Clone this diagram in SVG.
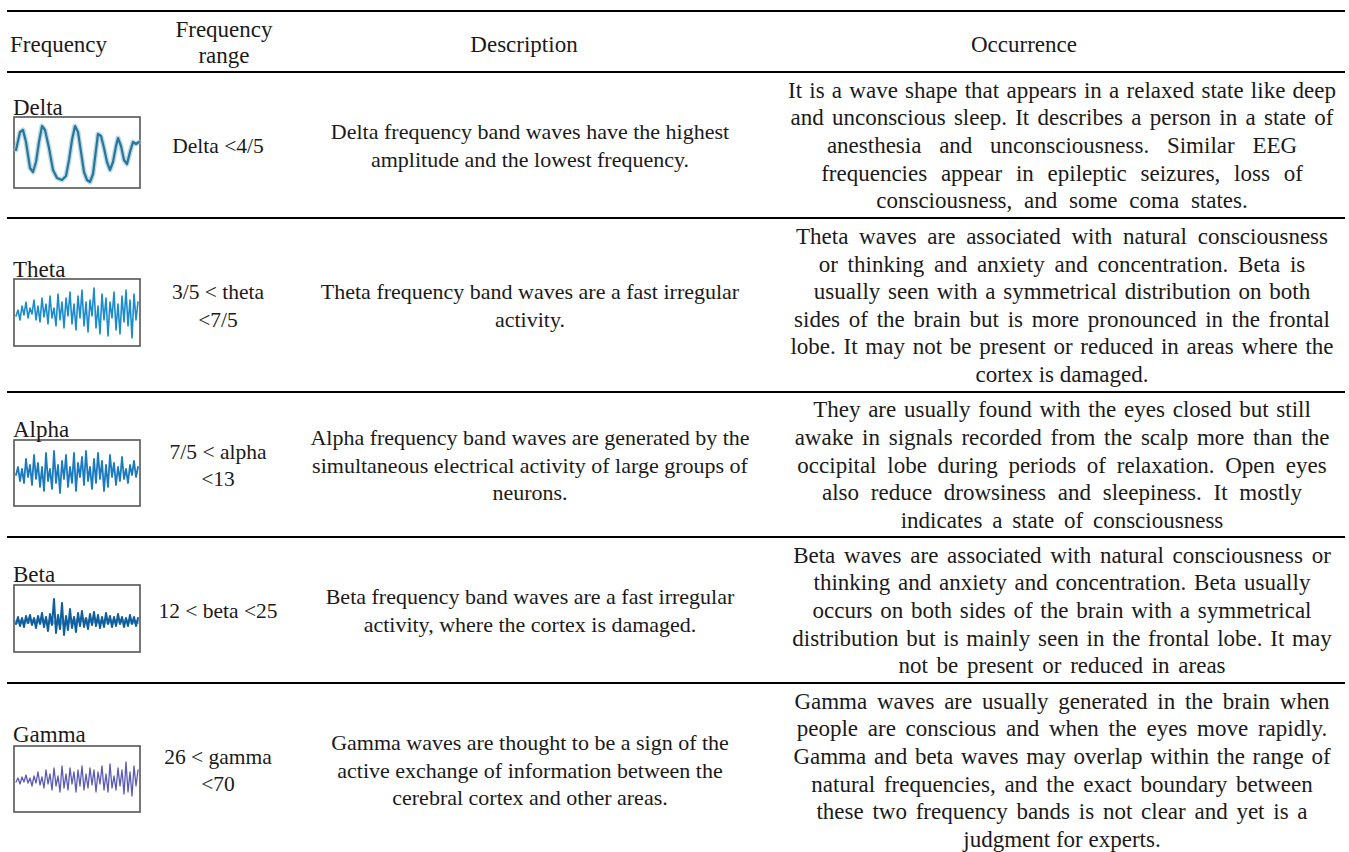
<svg xmlns="http://www.w3.org/2000/svg" width="1349" height="852" viewBox="0 0 1349 852">
<style>
text{font-family:"Liberation Serif","Times New Roman",serif;font-size:23px;fill:#1a1a1a}
.c{text-anchor:middle}
.r{text-anchor:middle;font-size:21.5px}
.d{text-anchor:middle;font-size:22px}
.o{text-anchor:middle}
.rule{stroke:#000;stroke-width:2.2}
.box{fill:#fff;stroke:#555;stroke-width:1.6}
.w{fill:none;stroke-linejoin:round;stroke-linecap:round}
</style>
<rect width="1349" height="852" fill="#fff"/>
<g id="rules">
<line class="rule" x1="7" y1="11" x2="1345" y2="11"/>
<line class="rule" x1="7" y1="72" x2="1345" y2="72"/>
<line class="rule" x1="7" y1="218" x2="1345" y2="218"/>
<line class="rule" x1="7" y1="392" x2="1345" y2="392"/>
<line class="rule" x1="7" y1="537" x2="1345" y2="537"/>
<line class="rule" x1="7" y1="683" x2="1345" y2="683"/>
</g>
<g id="header">
<text x="10" y="52">Frequency</text>
<text class="c" x="224" y="37">Frequency</text>
<text class="c" x="224" y="63">range</text>
<text class="c" x="524" y="52">Description</text>
<text class="c" x="1024" y="52">Occurrence</text>
</g>
<g id="row-delta">
<rect class="box" x="14" y="117" width="126" height="71"/>
<polyline class="w" stroke="#8fc3dc" stroke-opacity="0.6" stroke-width="5" points="16,150 20,132 23,130 26,142 30,168 33,172 36,162 39,142 42,126 45,130 49,148 53,170 57,178 62,180 66,176 69,160 72,140 75,126 78,132 81,152 84,172 87,180 90,182 93,174 96,150 98,134 101,136 104,148 107,162 110,170 113,162 116,146 118,138 121,146 124,160 127,164 130,152 133,142 136,144 139,142"/>
<polyline class="w" stroke="#2b7696" stroke-width="2.2" points="16,150 20,132 23,130 26,142 30,168 33,172 36,162 39,142 42,126 45,130 49,148 53,170 57,178 62,180 66,176 69,160 72,140 75,126 78,132 81,152 84,172 87,180 90,182 93,174 96,150 98,134 101,136 104,148 107,162 110,170 113,162 116,146 118,138 121,146 124,160 127,164 130,152 133,142 136,144 139,142"/>
<text x="13" y="115">Delta</text>
<text class="r" x="218" y="153">Delta &lt;4/5</text>
<text class="d" x="530" y="139">Delta frequency band waves have the highest</text>
<text class="d" x="530" y="167">amplitude and the lowest frequency.</text>
<text class="o" x="1062" y="98" word-spacing="1.5">It is a wave shape that appears in a relaxed state like deep</text>
<text class="o" x="1062" y="125" word-spacing="2.5">and unconscious sleep. It describes a person in a state of</text>
<text class="o" x="1062" y="153" word-spacing="12">anesthesia and unconsciousness. Similar EEG</text>
<text class="o" x="1062" y="181" word-spacing="8">frequencies appear in epileptic seizures, loss of</text>
<text class="o" x="1062" y="208" word-spacing="6">consciousness, and some coma states.</text>
</g>
<g id="row-theta">
<rect class="box" x="14" y="279" width="126" height="67"/>
<polyline class="w" stroke="#1a8ccc" stroke-width="1.6" points="16,316 18,310 20,320 22,306 24,315 26,302 28,318 30,308 32,314 34,300 36,320 38,306 40,322 42,298 44,317 46,304 48,324 50,296 52,318 54,308 56,326 58,294 60,320 62,302 64,328 66,298 68,316 70,292 72,324 74,304 76,330 78,296 80,318 82,290 84,326 86,302 88,332 90,300 92,316 94,288 96,328 98,306 100,334 102,294 104,320 106,298 108,336 110,302 112,318 114,292 116,330 118,304 120,334 122,296 124,322 126,290 128,326 130,300 132,338 134,294 136,320 138,302"/>
<text x="13" y="277">Theta</text>
<text class="r" x="218" y="299">3/5 &lt; theta</text>
<text class="r" x="218" y="327">&lt;7/5</text>
<text class="d" x="530" y="299">Theta frequency band waves are a fast irregular</text>
<text class="d" x="530" y="327">activity.</text>
<text class="o" x="1062" y="244" word-spacing="5">Theta waves are associated with natural consciousness</text>
<text class="o" x="1062" y="272" word-spacing="4">or thinking and anxiety and concentration. Beta is</text>
<text class="o" x="1062" y="299" word-spacing="2">usually seen with a symmetrical distribution on both</text>
<text class="o" x="1062" y="327" word-spacing="3">sides of the brain but is more pronounced in the frontal</text>
<text class="o" x="1062" y="354" word-spacing="2">lobe. It may not be present or reduced in areas where the</text>
<text class="o" x="1062" y="382">cortex is damaged.</text>
</g>
<g id="row-alpha">
<rect class="box" x="14" y="440" width="126" height="66"/>
<polyline class="w" stroke="#1a7ac0" stroke-width="1.8" points="16,475 18,467 20,481 22,469 24,483 26,459 28,477 30,465 32,485 34,455 36,479 38,463 40,487 42,467 44,491 46,453 48,481 50,469 52,489 54,451 56,483 58,465 60,493 62,461 64,479 66,455 68,487 70,467 72,483 74,453 76,491 78,463 80,477 82,457 84,485 86,451 88,481 90,467 92,489 94,459 96,483 98,453 100,479 102,461 104,491 106,465 108,487 110,455 112,477 114,463 116,485 118,467 120,481 122,457 124,479 126,469 128,483 130,465 132,475 134,461 136,477 138,467"/>
<text x="13" y="437">Alpha</text>
<text class="r" x="218" y="459">7/5 &lt; alpha</text>
<text class="r" x="218" y="486">&lt;13</text>
<text class="d" x="530" y="445">Alpha frequency band waves are generated by the</text>
<text class="d" x="530" y="473">simultaneous electrical activity of large groups of</text>
<text class="d" x="530" y="500">neurons.</text>
<text class="o" x="1062" y="417" word-spacing="2">They are usually found with the eyes closed but still</text>
<text class="o" x="1062" y="445" word-spacing="3">awake in signals recorded from the scalp more than the</text>
<text class="o" x="1062" y="473" word-spacing="5">occipital lobe during periods of relaxation. Open eyes</text>
<text class="o" x="1062" y="500" word-spacing="6">also reduce drowsiness and sleepiness. It mostly</text>
<text class="o" x="1062" y="528" word-spacing="4">indicates a state of consciousness</text>
</g>
<g id="row-beta">
<rect class="box" x="14" y="585" width="126" height="67"/>
<polyline class="w" stroke="#2a80c0" stroke-opacity="0.5" stroke-width="4" points="16,622 40,621 60,623 80,620 100,622 120,621 138,622"/>
<polyline class="w" stroke="#0f5f9f" stroke-width="2" points="16,624 18,617 20,626 22,618 24,627 26,616 28,623 30,615 32,625 34,618 36,628 38,616 40,624 42,613 44,627 46,617 48,631 50,614 52,625 54,599 56,633 58,615 60,629 62,603 64,635 66,616 68,630 70,609 72,628 74,617 76,632 78,613 80,626 82,611 84,627 86,618 88,629 90,614 92,625 94,612 96,626 98,615 100,628 102,617 104,627 106,613 108,624 110,616 112,627 114,617 116,626 118,614 120,624 122,617 124,627 126,618 128,626 130,615 132,624 134,617 136,626 138,618"/>
<text x="13" y="582">Beta</text>
<text class="r" x="218" y="618">12 &lt; beta &lt;25</text>
<text class="d" x="530" y="604">Beta frequency band waves are a fast irregular</text>
<text class="d" x="530" y="632">activity, where the cortex is damaged.</text>
<text class="o" x="1062" y="563" word-spacing="3">Beta waves are associated with natural consciousness or</text>
<text class="o" x="1062" y="590" word-spacing="2">thinking and anxiety and concentration. Beta usually</text>
<text class="o" x="1062" y="618" word-spacing="2">occurs on both sides of the brain with a symmetrical</text>
<text class="o" x="1062" y="646" word-spacing="2">distribution but is mainly seen in the frontal lobe. It may</text>
<text class="o" x="1062" y="673" word-spacing="3">not be present or reduced in areas</text>
</g>
<g id="row-gamma">
<rect class="box" x="14" y="746" width="126" height="66"/>
<polyline class="w" stroke="#5b5bb5" stroke-width="1.3" points="16,782 18,778 20,784 22,777 24,782 26,775 28,783 30,778 32,786 34,776 36,783 38,772 40,785 42,777 44,788 46,770 48,784 50,774 52,790 54,768 56,786 58,776 60,792 62,766 64,788 66,774 68,790 70,768 72,784 74,772 76,792 78,770 80,786 82,766 84,790 86,774 88,788 90,768 92,785 94,770 96,792 98,772 100,784 102,766 104,790 106,774 108,792 110,764 112,788 114,776 116,790 118,768 120,786 122,770 124,794 126,762 128,792 130,772 132,796 134,766 136,786 138,770"/>
<text x="13" y="742">Gamma</text>
<text class="r" x="218" y="764">26 &lt; gamma</text>
<text class="r" x="218" y="791">&lt;70</text>
<text class="d" x="530" y="750">Gamma waves are thought to be a sign of the</text>
<text class="d" x="530" y="778">active exchange of information between the</text>
<text class="d" x="530" y="805">cerebral cortex and other areas.</text>
<text class="o" x="1062" y="709" word-spacing="4">Gamma waves are usually generated in the brain when</text>
<text class="o" x="1062" y="736" word-spacing="4">people are conscious and when the eyes move rapidly.</text>
<text class="o" x="1062" y="764" word-spacing="2">Gamma and beta waves may overlap within the range of</text>
<text class="o" x="1062" y="792" word-spacing="3">natural frequencies, and the exact boundary between</text>
<text class="o" x="1062" y="819" word-spacing="3">these two frequency bands is not clear and yet is a</text>
<text class="o" x="1062" y="847">judgment for experts.</text>
</g>
</svg>
